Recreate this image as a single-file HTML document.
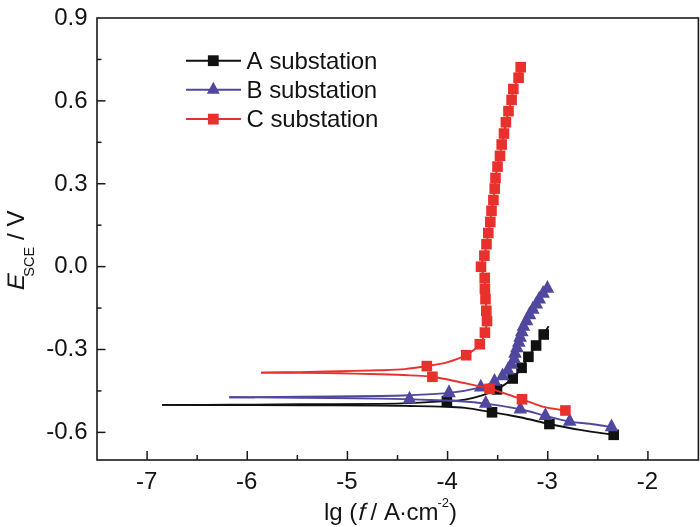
<!DOCTYPE html>
<html><head><meta charset="utf-8"><style>
html,body{margin:0;padding:0;background:#fff;}
svg{display:block;will-change:transform;}
.t{font-family:"Liberation Sans",Arial,sans-serif;font-size:24px;fill:#141414;}
</style></head><body>
<svg width="700" height="527" viewBox="0 0 700 527">
<rect width="700" height="527" fill="#fff"/>
<rect x="97" y="18" width="601.4" height="442" fill="none" stroke="#1a1a1a" stroke-width="1.6"/>
<line x1="147.08" y1="460" x2="147.08" y2="451" stroke="#1a1a1a" stroke-width="1.5"/>
<text x="146.58" y="488.6" text-anchor="middle" class="t">-7</text>
<line x1="247.25" y1="460" x2="247.25" y2="451" stroke="#1a1a1a" stroke-width="1.5"/>
<text x="246.75" y="488.6" text-anchor="middle" class="t">-6</text>
<line x1="347.42" y1="460" x2="347.42" y2="451" stroke="#1a1a1a" stroke-width="1.5"/>
<text x="346.92" y="488.6" text-anchor="middle" class="t">-5</text>
<line x1="447.58" y1="460" x2="447.58" y2="451" stroke="#1a1a1a" stroke-width="1.5"/>
<text x="447.08" y="488.6" text-anchor="middle" class="t">-4</text>
<line x1="547.75" y1="460" x2="547.75" y2="451" stroke="#1a1a1a" stroke-width="1.5"/>
<text x="547.25" y="488.6" text-anchor="middle" class="t">-3</text>
<line x1="647.92" y1="460" x2="647.92" y2="451" stroke="#1a1a1a" stroke-width="1.5"/>
<text x="647.42" y="488.6" text-anchor="middle" class="t">-2</text>
<line x1="197.17" y1="460" x2="197.17" y2="455" stroke="#1a1a1a" stroke-width="1.5"/>
<line x1="297.33" y1="460" x2="297.33" y2="455" stroke="#1a1a1a" stroke-width="1.5"/>
<line x1="397.50" y1="460" x2="397.50" y2="455" stroke="#1a1a1a" stroke-width="1.5"/>
<line x1="497.67" y1="460" x2="497.67" y2="455" stroke="#1a1a1a" stroke-width="1.5"/>
<line x1="597.83" y1="460" x2="597.83" y2="455" stroke="#1a1a1a" stroke-width="1.5"/>
<text x="87.5" y="24.80" text-anchor="end" class="t">0.9</text>
<line x1="97" y1="100.87" x2="105.50" y2="100.87" stroke="#1a1a1a" stroke-width="1.5"/>
<text x="87.5" y="107.67" text-anchor="end" class="t">0.6</text>
<line x1="97" y1="183.75" x2="105.50" y2="183.75" stroke="#1a1a1a" stroke-width="1.5"/>
<text x="87.5" y="190.55" text-anchor="end" class="t">0.3</text>
<line x1="97" y1="266.62" x2="105.50" y2="266.62" stroke="#1a1a1a" stroke-width="1.5"/>
<text x="87.5" y="273.43" text-anchor="end" class="t">0.0</text>
<line x1="97" y1="349.50" x2="105.50" y2="349.50" stroke="#1a1a1a" stroke-width="1.5"/>
<text x="87.5" y="356.30" text-anchor="end" class="t">-0.3</text>
<line x1="97" y1="432.38" x2="105.50" y2="432.38" stroke="#1a1a1a" stroke-width="1.5"/>
<text x="87.5" y="439.18" text-anchor="end" class="t">-0.6</text>
<line x1="97" y1="59.44" x2="101.50" y2="59.44" stroke="#1a1a1a" stroke-width="1.5"/>
<line x1="97" y1="142.31" x2="101.50" y2="142.31" stroke="#1a1a1a" stroke-width="1.5"/>
<line x1="97" y1="225.19" x2="101.50" y2="225.19" stroke="#1a1a1a" stroke-width="1.5"/>
<line x1="97" y1="308.06" x2="101.50" y2="308.06" stroke="#1a1a1a" stroke-width="1.5"/>
<line x1="97" y1="390.94" x2="101.50" y2="390.94" stroke="#1a1a1a" stroke-width="1.5"/>
<path d="M613.70,434.80 C608.08,433.98 590.72,431.70 580.00,429.90 C569.28,428.10 559.40,426.12 549.40,424.00 C539.40,421.88 529.57,419.15 520.00,417.20 C510.43,415.25 501.17,413.85 492.00,412.30 C482.83,410.75 473.67,408.85 465.00,407.90 C456.33,406.95 449.17,406.92 440.00,406.60 C430.83,406.28 420.00,406.17 410.00,406.00 C400.00,405.83 398.33,405.73 380.00,405.60 C361.67,405.47 325.00,405.30 300.00,405.20 C275.00,405.10 253.00,405.05 230.00,405.00 C207.00,404.95 173.33,404.92 162.00,404.90" fill="none" stroke="#111111" stroke-width="1.9"/>
<path d="M162.00,404.90 C173.33,404.88 207.00,404.90 230.00,404.80 C253.00,404.70 275.00,404.45 300.00,404.30 C325.00,404.15 360.00,404.18 380.00,403.90 C400.00,403.62 408.85,403.07 420.00,402.60 C431.15,402.13 439.40,401.60 446.90,401.10 C454.40,400.60 458.98,400.58 465.00,399.60 C471.02,398.62 477.67,396.90 483.00,395.20 C488.33,393.50 492.05,392.18 497.00,389.40 C501.95,386.62 508.60,382.10 512.70,378.50 C516.80,374.90 518.98,371.42 521.60,367.80 C524.22,364.18 525.98,360.52 528.40,356.80 C530.82,353.08 533.55,349.22 536.10,345.50 C538.65,341.78 541.62,337.72 543.70,334.50 C545.78,331.28 547.78,327.58 548.60,326.20" fill="none" stroke="#111111" stroke-width="1.9"/>
<rect x="608.40" y="429.50" width="10.60" height="10.60" fill="#111111"/>
<rect x="544.10" y="418.70" width="10.60" height="10.60" fill="#111111"/>
<rect x="486.70" y="407.00" width="10.60" height="10.60" fill="#111111"/>
<rect x="441.60" y="395.80" width="10.60" height="10.60" fill="#111111"/>
<rect x="491.70" y="384.10" width="10.60" height="10.60" fill="#111111"/>
<rect x="507.40" y="373.20" width="10.60" height="10.60" fill="#111111"/>
<rect x="516.30" y="362.50" width="10.60" height="10.60" fill="#111111"/>
<rect x="523.10" y="351.50" width="10.60" height="10.60" fill="#111111"/>
<rect x="530.80" y="340.20" width="10.60" height="10.60" fill="#111111"/>
<rect x="538.40" y="329.20" width="10.60" height="10.60" fill="#111111"/>
<path d="M611.50,427.00 C607.92,426.47 596.97,424.70 590.00,423.80 C583.03,422.90 577.13,422.93 569.70,421.60 C562.27,420.27 553.63,417.85 545.40,415.80 C537.17,413.75 530.25,411.33 520.30,409.30 C510.35,407.27 495.75,404.95 485.70,403.60 C475.65,402.25 469.28,401.80 460.00,401.20 C450.72,400.60 438.42,400.32 430.00,400.00 C421.58,399.68 417.83,399.53 409.50,399.30 C401.17,399.07 398.25,398.87 380.00,398.60 C361.75,398.33 325.12,397.92 300.00,397.70 C274.88,397.48 241.08,397.37 229.30,397.30" fill="none" stroke="#4f489e" stroke-width="1.9"/>
<path d="M229.30,397.30 C241.08,397.20 274.88,396.92 300.00,396.70 C325.12,396.48 361.67,396.25 380.00,396.00 C398.33,395.75 398.50,395.72 410.00,395.20 C421.50,394.68 437.20,394.22 449.00,392.90 C460.80,391.58 473.22,389.18 480.80,387.30 C488.38,385.42 490.87,383.48 494.50,381.60 C498.13,379.72 500.38,377.90 502.60,376.00 C504.82,374.10 506.32,372.10 507.80,370.20 C509.28,368.30 510.43,366.47 511.50,364.60 C512.57,362.73 513.62,360.87 514.20,359.00 C514.78,357.13 514.55,355.23 515.00,353.40 C515.45,351.57 516.27,349.80 516.90,348.00 C517.53,346.20 518.27,344.37 518.80,342.60 C519.33,340.83 519.60,339.17 520.10,337.40 C520.60,335.63 521.23,333.82 521.80,332.00 C522.37,330.18 522.72,328.35 523.50,326.50 C524.28,324.65 525.50,322.83 526.50,320.90 C527.50,318.97 528.45,316.82 529.50,314.90 C530.55,312.98 531.67,311.17 532.80,309.40 C533.93,307.63 535.23,306.00 536.30,304.30 C537.37,302.60 538.07,300.98 539.20,299.20 C540.33,297.42 541.73,295.38 543.10,293.60 C544.47,291.82 546.68,289.35 547.40,288.50" fill="none" stroke="#4f489e" stroke-width="1.9"/>
<path d="M611.50,418.47 L618.30,431.27 L604.70,431.27 Z" fill="#4f489e"/>
<path d="M569.70,413.07 L576.50,425.87 L562.90,425.87 Z" fill="#4f489e"/>
<path d="M545.40,407.27 L552.20,420.07 L538.60,420.07 Z" fill="#4f489e"/>
<path d="M520.30,400.77 L527.10,413.57 L513.50,413.57 Z" fill="#4f489e"/>
<path d="M485.70,395.07 L492.50,407.87 L478.90,407.87 Z" fill="#4f489e"/>
<path d="M409.50,390.77 L416.30,403.57 L402.70,403.57 Z" fill="#4f489e"/>
<path d="M449.00,384.37 L455.80,397.17 L442.20,397.17 Z" fill="#4f489e"/>
<path d="M480.80,378.77 L487.60,391.57 L474.00,391.57 Z" fill="#4f489e"/>
<path d="M547.40,279.97 L554.20,292.77 L540.60,292.77 Z" fill="#4f489e"/>
<path d="M543.10,285.07 L549.90,297.87 L536.30,297.87 Z" fill="#4f489e"/>
<path d="M539.20,290.67 L546.00,303.47 L532.40,303.47 Z" fill="#4f489e"/>
<path d="M536.30,295.77 L543.10,308.57 L529.50,308.57 Z" fill="#4f489e"/>
<path d="M532.80,300.87 L539.60,313.67 L526.00,313.67 Z" fill="#4f489e"/>
<path d="M529.50,306.37 L536.30,319.17 L522.70,319.17 Z" fill="#4f489e"/>
<path d="M526.50,312.37 L533.30,325.17 L519.70,325.17 Z" fill="#4f489e"/>
<path d="M523.50,317.97 L530.30,330.77 L516.70,330.77 Z" fill="#4f489e"/>
<path d="M521.80,323.47 L528.60,336.27 L515.00,336.27 Z" fill="#4f489e"/>
<path d="M520.10,328.87 L526.90,341.67 L513.30,341.67 Z" fill="#4f489e"/>
<path d="M518.80,334.07 L525.60,346.87 L512.00,346.87 Z" fill="#4f489e"/>
<path d="M516.90,339.47 L523.70,352.27 L510.10,352.27 Z" fill="#4f489e"/>
<path d="M515.00,344.87 L521.80,357.67 L508.20,357.67 Z" fill="#4f489e"/>
<path d="M514.20,350.47 L521.00,363.27 L507.40,363.27 Z" fill="#4f489e"/>
<path d="M511.50,356.07 L518.30,368.87 L504.70,368.87 Z" fill="#4f489e"/>
<path d="M507.80,361.67 L514.60,374.47 L501.00,374.47 Z" fill="#4f489e"/>
<path d="M502.60,367.47 L509.40,380.27 L495.80,380.27 Z" fill="#4f489e"/>
<path d="M494.50,373.07 L501.30,385.87 L487.70,385.87 Z" fill="#4f489e"/>
<path d="M565.40,410.50 C562.00,409.95 552.23,409.07 545.00,407.20 C537.77,405.33 531.25,402.38 522.00,399.30 C512.75,396.22 499.83,391.55 489.50,388.70 C479.17,385.85 469.52,384.18 460.00,382.20 C450.48,380.22 440.73,377.93 432.40,376.80 C424.07,375.67 418.73,375.82 410.00,375.40 C401.27,374.98 391.67,374.65 380.00,374.30 C368.33,373.95 353.33,373.53 340.00,373.30 C326.67,373.07 313.17,373.02 300.00,372.90 C286.83,372.78 267.50,372.65 261.00,372.60" fill="none" stroke="#e8302c" stroke-width="1.9"/>
<path d="M261.00,372.60 C267.50,372.52 286.83,372.33 300.00,372.10 C313.17,371.87 326.67,371.50 340.00,371.20 C353.33,370.90 369.17,370.65 380.00,370.30 C390.83,369.95 397.20,369.80 405.00,369.10 C412.80,368.40 419.80,367.23 426.80,366.10 C433.80,364.97 440.43,364.12 447.00,362.30 C453.57,360.48 460.73,358.22 466.20,355.20 C471.67,352.18 476.68,347.97 479.80,344.20 C482.92,340.43 483.70,336.45 484.90,332.60 C486.10,328.75 486.77,324.75 487.00,321.10 C487.23,317.45 486.55,314.35 486.30,310.70 C486.05,307.05 485.73,302.87 485.50,299.20 C485.27,295.53 485.03,292.25 484.90,288.70 C484.77,285.15 485.35,281.57 484.70,277.90 C484.05,274.23 481.05,270.42 481.00,266.70 C480.95,262.98 483.48,259.35 484.40,255.60 C485.32,251.85 485.85,247.97 486.50,244.20 C487.15,240.43 487.67,236.72 488.30,233.00 C488.93,229.28 489.77,225.60 490.30,221.90 C490.83,218.20 490.98,214.45 491.50,210.80 C492.02,207.15 492.87,203.70 493.40,200.00 C493.93,196.30 494.35,192.27 494.70,188.60 C495.05,184.93 495.03,181.67 495.50,178.00 C495.97,174.33 496.75,170.30 497.50,166.60 C498.25,162.90 499.30,159.48 500.00,155.80 C500.70,152.12 501.03,148.22 501.70,144.50 C502.37,140.78 503.30,137.20 504.00,133.50 C504.70,129.80 505.15,126.02 505.90,122.30 C506.65,118.58 507.55,114.93 508.50,111.20 C509.45,107.47 510.80,103.60 511.60,99.90 C512.40,96.20 512.13,92.70 513.30,89.00 C514.47,85.30 517.37,81.33 518.60,77.70 C519.83,74.07 520.35,68.95 520.70,67.20" fill="none" stroke="#e8302c" stroke-width="1.9"/>
<rect x="560.10" y="405.20" width="10.60" height="10.60" fill="#e8302c"/>
<rect x="516.70" y="394.00" width="10.60" height="10.60" fill="#e8302c"/>
<rect x="484.20" y="383.60" width="10.60" height="10.60" fill="#e8302c"/>
<rect x="427.10" y="371.50" width="10.60" height="10.60" fill="#e8302c"/>
<rect x="421.50" y="360.80" width="10.60" height="10.60" fill="#e8302c"/>
<rect x="515.40" y="61.90" width="10.60" height="10.60" fill="#e8302c"/>
<rect x="513.30" y="72.40" width="10.60" height="10.60" fill="#e8302c"/>
<rect x="508.00" y="83.70" width="10.60" height="10.60" fill="#e8302c"/>
<rect x="506.30" y="94.60" width="10.60" height="10.60" fill="#e8302c"/>
<rect x="503.20" y="105.90" width="10.60" height="10.60" fill="#e8302c"/>
<rect x="500.60" y="117.00" width="10.60" height="10.60" fill="#e8302c"/>
<rect x="498.70" y="128.20" width="10.60" height="10.60" fill="#e8302c"/>
<rect x="496.40" y="139.20" width="10.60" height="10.60" fill="#e8302c"/>
<rect x="494.70" y="150.50" width="10.60" height="10.60" fill="#e8302c"/>
<rect x="492.20" y="161.30" width="10.60" height="10.60" fill="#e8302c"/>
<rect x="490.20" y="172.70" width="10.60" height="10.60" fill="#e8302c"/>
<rect x="489.40" y="183.30" width="10.60" height="10.60" fill="#e8302c"/>
<rect x="488.10" y="194.70" width="10.60" height="10.60" fill="#e8302c"/>
<rect x="486.20" y="205.50" width="10.60" height="10.60" fill="#e8302c"/>
<rect x="485.00" y="216.60" width="10.60" height="10.60" fill="#e8302c"/>
<rect x="483.00" y="227.70" width="10.60" height="10.60" fill="#e8302c"/>
<rect x="481.20" y="238.90" width="10.60" height="10.60" fill="#e8302c"/>
<rect x="479.10" y="250.30" width="10.60" height="10.60" fill="#e8302c"/>
<rect x="475.70" y="261.40" width="10.60" height="10.60" fill="#e8302c"/>
<rect x="479.40" y="272.60" width="10.60" height="10.60" fill="#e8302c"/>
<rect x="479.60" y="283.40" width="10.60" height="10.60" fill="#e8302c"/>
<rect x="480.20" y="293.90" width="10.60" height="10.60" fill="#e8302c"/>
<rect x="481.00" y="305.40" width="10.60" height="10.60" fill="#e8302c"/>
<rect x="481.70" y="315.80" width="10.60" height="10.60" fill="#e8302c"/>
<rect x="479.60" y="327.30" width="10.60" height="10.60" fill="#e8302c"/>
<rect x="474.50" y="338.90" width="10.60" height="10.60" fill="#e8302c"/>
<rect x="460.90" y="349.90" width="10.60" height="10.60" fill="#e8302c"/>
<line x1="186" y1="60.7" x2="241" y2="60.7" stroke="#111111" stroke-width="2"/>
<rect x="207.90" y="55.30" width="10.80" height="10.80" fill="#111111"/>
<text x="246.5" y="69.2" class="t" style="word-spacing:1.9px;letter-spacing:-0.16px">A substation</text>
<line x1="186" y1="89.7" x2="241" y2="89.7" stroke="#4f489e" stroke-width="2"/>
<path d="M213.30,81.70 L219.80,93.70 L206.80,93.70 Z" fill="#4f489e"/>
<text x="246.5" y="98.2" class="t" style="word-spacing:0.4px;letter-spacing:-0.16px">B substation</text>
<line x1="186" y1="119.1" x2="241" y2="119.1" stroke="#e8302c" stroke-width="2"/>
<rect x="207.90" y="113.70" width="10.80" height="10.80" fill="#e8302c"/>
<text x="246.5" y="126.8" class="t" style="word-spacing:0.2px;letter-spacing:-0.16px">C substation</text>
<text x="324" y="520" class="t">lg (</text>
<text transform="translate(357,520) skewX(-14)" class="t">f</text>
<text x="370.5" y="520" class="t">/ <tspan dx="1.5">A</tspan><tspan dx="-1">·</tspan><tspan dx="-0.5">cm</tspan><tspan font-size="13" dy="-13" dx="-1">-2</tspan><tspan dy="13" dx="0">)</tspan></text>
<text transform="translate(23.5,291.6) rotate(-90) skewX(-14)" class="t">E</text>
<text transform="translate(23.5,290) rotate(-90)" class="t"><tspan font-size="14.5" x="13.3" y="10">SCE</tspan><tspan x="50" y="0">/</tspan><tspan x="63.5" y="0">V</tspan></text>
</svg>
</body></html>
